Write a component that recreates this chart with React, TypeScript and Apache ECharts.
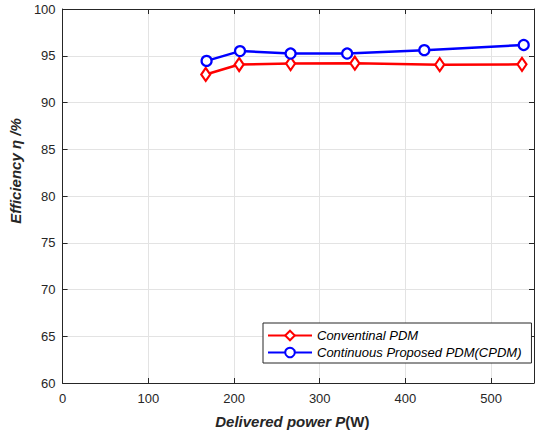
import React, { useEffect, useRef } from "react";
import * as echarts from "echarts";

const powerConventional = [167, 206, 266, 341, 440, 536];
const effConventional = [93.0, 94.06, 94.16, 94.2, 94.05, 94.08];
const powerProposed = [168, 207, 266, 332, 422, 538];
const effProposed = [94.45, 95.5, 95.24, 95.24, 95.6, 96.15];
const seriesNames = ["Conventinal PDM", "Continuous Proposed PDM(CPDM)"];

const AXIS_COLOR = "#262626";
const FONT = "Liberation Sans, Arial, sans-serif";

const diamond = "path://M5,0 L10,7 L5,14 L0,7 Z";

export default function App() {
  const ref = useRef<HTMLDivElement>(null);
  useEffect(() => {
    if (!ref.current) return;
    document.body.style.margin = "0";
    const chart = echarts.init(ref.current, undefined, { renderer: "svg" });
    const pair = (xs: number[], ys: number[]) => xs.map((x, i) => [x, ys[i]]);
    const frameAxis = {
      axisLine: { show: true, onZero: false, lineStyle: { color: AXIS_COLOR, width: 1 } },
      axisTick: { show: true, inside: true, length: 5, lineStyle: { color: AXIS_COLOR } },
      axisLabel: { show: false },
      splitLine: { show: false },
    };
    chart.setOption({
      animation: false,
      backgroundColor: "#fff",
      textStyle: { fontFamily: FONT },
      grid: { left: 61, right: 8, top: 9, bottom: 51, containLabel: false },
      xAxis: [
        {
          type: "value",
          min: 0,
          max: 550,
          interval: 100,
          position: "bottom",
          axisLine: { show: true, onZero: false, lineStyle: { color: AXIS_COLOR, width: 1 } },
          axisTick: { show: true, inside: true, length: 5, lineStyle: { color: AXIS_COLOR } },
          axisLabel: {
            color: AXIS_COLOR,
            fontSize: 13,
            fontFamily: FONT,
            margin: 9,
            showMaxLabel: false,
          },
          splitLine: { show: true, lineStyle: { color: "#e3e3e3", width: 1 } },
          name: "{i|Delivered power P}{n|(W)}",
          nameLocation: "middle",
          nameGap: 31,
          nameTextStyle: {
            padding: [0, 12, 0, 0],
            rich: {
              i: { fontSize: 15, fontWeight: "bold", fontStyle: "italic", color: AXIS_COLOR, fontFamily: FONT },
              n: { fontSize: 15, fontWeight: "bold", color: AXIS_COLOR, fontFamily: FONT },
            },
          },
        },
        { type: "value", min: 0, max: 550, interval: 100, position: "top", ...frameAxis },
      ],
      yAxis: [
        {
          type: "value",
          min: 60,
          max: 100,
          interval: 5,
          position: "left",
          axisLine: { show: true, onZero: false, lineStyle: { color: AXIS_COLOR, width: 1 } },
          axisTick: { show: true, inside: true, length: 5, lineStyle: { color: AXIS_COLOR } },
          axisLabel: { color: AXIS_COLOR, fontSize: 13, fontFamily: FONT, margin: 7 },
          splitLine: { show: true, lineStyle: { color: "#e3e3e3", width: 1 } },
          name: "Efficiency η /%",
          nameLocation: "middle",
          nameGap: 39,
          nameTextStyle: {
            fontSize: 15,
            fontWeight: "bold",
            fontStyle: "italic",
            color: AXIS_COLOR,
            fontFamily: FONT,
            padding: [0, 0, 0, 50],
          },
        },
        { type: "value", min: 60, max: 100, interval: 5, position: "right", ...frameAxis },
      ],
      legend: {
        left: 263,
        top: 323,
        orient: "vertical",
        itemWidth: 44,
        itemHeight: 12,
        itemGap: 4,
        padding: [6, 10, 4, 4],
        backgroundColor: "#fff",
        borderColor: "#262626",
        borderWidth: 1,
        borderRadius: 0,
        textStyle: { fontSize: 13, fontStyle: "italic", color: "#000", fontFamily: FONT },
        data: seriesNames,
      },
      series: [
        {
          name: seriesNames[0],
          type: "line",
          data: pair(powerConventional, effConventional),
          symbol: diamond,
          symbolSize: [9, 13],
          lineStyle: { color: "#ff0000", width: 2.5 },
          itemStyle: { color: "#fff", borderColor: "#ff0000", borderWidth: 2.2 },
          z: 3,
        },
        {
          name: seriesNames[1],
          type: "line",
          data: pair(powerProposed, effProposed),
          symbol: "circle",
          symbolSize: 10,
          lineStyle: { color: "#0000ff", width: 2.5 },
          itemStyle: { color: "#fff", borderColor: "#0000ff", borderWidth: 2.2 },
          z: 4,
        },
      ],
    });
    return () => chart.dispose();
  }, []);
  return <div ref={ref} style={{ width: 542, height: 434 }} />;
}
